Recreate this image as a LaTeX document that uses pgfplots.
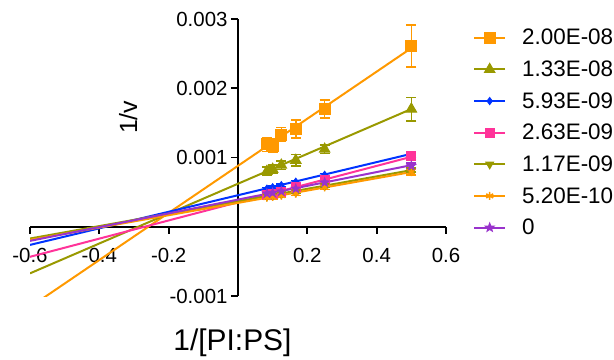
\documentclass[border=0pt]{standalone}
\usepackage{fontspec}
\setmainfont{Liberation Sans}
\usepackage{pgfplots}
\pgfplotsset{compat=1.18}
\usetikzlibrary{plotmarks}

\definecolor{cA}{HTML}{FF9900}
\definecolor{cB}{HTML}{999900}
\definecolor{cC}{HTML}{0033FF}
\definecolor{cD}{HTML}{FF3399}
\definecolor{cE}{HTML}{999900}
\definecolor{cF}{HTML}{FF9900}
\definecolor{cG}{HTML}{9933CC}

% filled five-pointed star
\pgfdeclareplotmark{fstar}{%
  \pgfpathmoveto{\pgfqpointpolar{90}{\pgfplotmarksize}}%
  \pgfpathlineto{\pgfqpointpolar{126}{0.42\pgfplotmarksize}}%
  \pgfpathlineto{\pgfqpointpolar{162}{\pgfplotmarksize}}%
  \pgfpathlineto{\pgfqpointpolar{198}{0.42\pgfplotmarksize}}%
  \pgfpathlineto{\pgfqpointpolar{234}{\pgfplotmarksize}}%
  \pgfpathlineto{\pgfqpointpolar{270}{0.42\pgfplotmarksize}}%
  \pgfpathlineto{\pgfqpointpolar{306}{\pgfplotmarksize}}%
  \pgfpathlineto{\pgfqpointpolar{342}{0.42\pgfplotmarksize}}%
  \pgfpathlineto{\pgfqpointpolar{18}{\pgfplotmarksize}}%
  \pgfpathlineto{\pgfqpointpolar{54}{0.42\pgfplotmarksize}}%
  \pgfpathclose
  \pgfusepathqfillstroke}

\pgfplotstableread{
x       y        e
0.08333 0.00119  0.00010
0.1     0.00117  0.00010
0.125   0.00133  0.00010
0.16667 0.00141  0.00013
0.25    0.00170  0.00013
0.5     0.00261  0.00030
}\tA
\pgfplotstableread{
x       y        e
0.08333 0.00080  0.00006
0.1     0.00083  0.00006
0.125   0.00089  0.00006
0.16667 0.00096  0.00008
0.25    0.00112  0.00006
0.5     0.00170  0.00017
}\tB
\pgfplotstableread{
x       y        e
0.08333 0.00055  0.00002
0.1     0.00057  0.00002
0.125   0.00060  0.00002
0.16667 0.00065  0.00002
0.25    0.00075  0.00002
0.5     0.00103  0.00003
}\tC
\pgfplotstableread{
x       y        e
0.08333 0.00046  0.00003
0.1     0.00048  0.00003
0.125   0.00050  0.00003
0.16667 0.00057  0.00003
0.25    0.00068  0.00004
0.5     0.00102  0.00005
}\tD
\pgfplotstableread{
x       y        e
0.08333 0.00044  0.00002
0.1     0.00045  0.00002
0.125   0.00047  0.00002
0.16667 0.00050  0.00002
0.25    0.00059  0.00002
0.5     0.00082  0.00003
}\tE
\pgfplotstableread{
x       y        e
0.08333 0.00042  0.00003
0.1     0.00043  0.00003
0.125   0.00045  0.00003
0.16667 0.00048  0.00003
0.25    0.00057  0.00003
0.5     0.00079  0.00004
}\tF
\pgfplotstableread{
x       y        e
0.08333 0.00048  0.00002
0.1     0.00049  0.00002
0.125   0.00051  0.00002
0.16667 0.00055  0.00002
0.25    0.00064  0.00002
0.5     0.00088  0.00004
}\tG

\begin{document}
\begin{tikzpicture}
\begin{axis}[
  scale only axis, width=416bp, height=277bp,
  xmin=-0.6, xmax=0.6, ymin=-0.001, ymax=0.003,
  axis lines=center,
  axis line style={-, line width=1.8bp, black},
  scaled y ticks=false, scaled x ticks=false,
  xtick={-0.6,-0.4,-0.2,0.2,0.4,0.6},
  xticklabels={-0.6,-0.4,-0.2,0.2,0.4,0.6},
  ytick={-0.001,0.001,0.002,0.003},
  yticklabels={-0.001,0.001,0.002,0.003},
  tick align=outside,
  major tick length=7bp,
  tick style={line width=1.8bp, black},
  ticklabel style={font=\fontsize{20.5}{24}\selectfont},
  xticklabel style={yshift=-11bp},
  xlabel={1/[PI:PS]},
  ylabel={1/v},
  xlabel style={at={(axis cs:-0.016,-0.00168)}, anchor=center, font=\fontsize{30}{34}\selectfont},
  ylabel style={at={(axis cs:-0.317,0.00158)}, anchor=center, rotate=90, font=\fontsize{25}{30}\selectfont},
  legend image code/.code={%
    \draw[line width=2bp] (0bp,0bp) -- (31bp,0bp);
    \draw[only marks] plot coordinates {(15.5bp,0bp)};
    \path[draw=none, fill=none] (0bp,0bp) -- (46bp,0bp);},
  legend style={draw=none, fill=none, at={(rel axis cs:1,1)}, anchor=north west,
    xshift=27bp, yshift=-8bp, font=\fontsize{22.5}{26}\selectfont,
    row sep=10.5bp, inner sep=0pt},
  legend cell align=left,
  fit/.style={line width=2bp, forget plot},
  pts/.style={only marks, line width=1bp,
    error bars/y dir=both, error bars/y explicit,
    error bars/error bar style={line width=1.5bp},
    error bars/error mark options={rotate=90, mark size=5bp, line width=1.5bp}},
]
% regression lines
\addplot[cA, fit] coordinates {(-0.6,-0.00116) (0.5,0.00258)};
\addplot[cB, fit] coordinates {(-0.6,-0.000673) (0.5,0.0017)};
\addplot[cC, fit] coordinates {(-0.6,-0.000262) (0.5,0.001053)};
\addplot[cD, fit] coordinates {(-0.6,-0.000434) (0.5,0.00101)};
\addplot[cE, fit] coordinates {(-0.6,-0.00017) (0.5,0.000817)};
\addplot[cF, fit] coordinates {(-0.6,-0.00019) (0.5,0.00079)};
\addplot[cG, fit] coordinates {(-0.6,-0.000204) (0.5,0.000889)};
% measured points
\addplot[pts, cA, fill=cA, mark=square*, mark size=5.5bp] table[x=x, y=y, y error=e] {\tA};
\addlegendentry{2.00E-08}
\addplot[pts, cB, fill=cB, mark=triangle*, mark size=6bp] table[x=x, y=y, y error=e] {\tB};
\addlegendentry{1.33E-08}
\addplot[pts, cC, fill=cC, mark=diamond*, mark size=3.5bp] table[x=x, y=y, y error=e] {\tC};
\addlegendentry{5.93E-09}
\addplot[pts, cD, fill=cD, mark=square*, mark size=4.5bp] table[x=x, y=y, y error=e] {\tD};
\addlegendentry{2.63E-09}
\addplot[pts, cE, fill=cE, mark=triangle*, mark options={rotate=180}, mark size=4.5bp] table[x=x, y=y, y error=e] {\tE};
\addlegendentry{1.17E-09}
\addplot[pts, cF, fill=cF, mark=asterisk, mark size=4bp, mark options={line width=1.6bp}] table[x=x, y=y, y error=e] {\tF};
\addlegendentry{5.20E-10}
\addplot[pts, cG, fill=cG, mark=fstar, mark size=4.5bp] table[x=x, y=y, y error=e] {\tG};
\addlegendentry{0}
\end{axis}
\pgfresetboundingbox
\path[use as bounding box] (-30bp,-64bp) rectangle (584bp,296bp);
\end{tikzpicture}
\end{document}
